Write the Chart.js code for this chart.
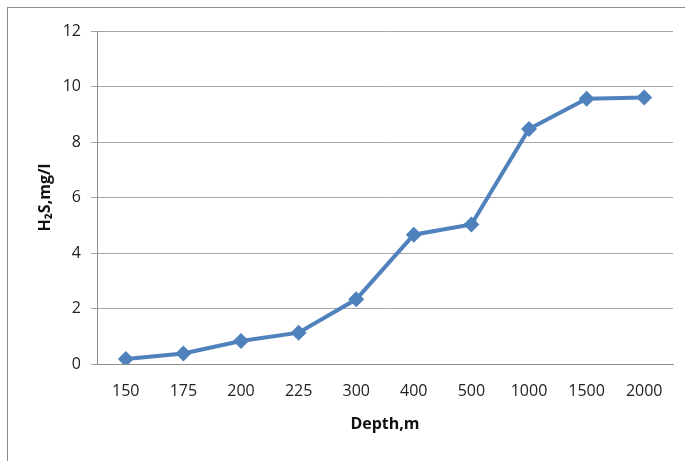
<!DOCTYPE html>
<html>
<head>
<meta charset="utf-8">
<script src="https://cdn.jsdelivr.net/npm/chart.js@4.4.1/dist/chart.umd.min.js"></script>
<style>
  html, body { margin: 0; padding: 0; background: #fff; }
  #wrap { position: relative; width: 685px; height: 461px; overflow: hidden; }
  #frame { position: absolute; left: 7px; top: 7px; width: 690px; height: 470px;
           border-left: 1.5px solid #8c8c8c; border-top: 1.5px solid #8c8c8c; box-sizing: border-box; }
  canvas { position: absolute; left: 0; top: 0; }
</style>
</head>
<body>
<div id="wrap">
  <div id="frame"></div>
  <canvas id="c" width="685" height="461"></canvas>
</div>
<script>
const depths = ["150", "175", "200", "225", "300", "400", "500", "1000", "1500", "2000"];
const h2s = [0.18, 0.38, 0.83, 1.13, 2.33, 4.66, 5.03, 8.47, 9.56, 9.6];
const yTicks = [0, 2, 4, 6, 8, 10, 12];
const xTitle = "Depth,m";
const yTitle = "H\u2082S,mg/l";

const tickFont = { family: "'Open Sans', sans-serif", size: 16 };
const titleFont = { family: "'Open Sans', sans-serif", size: 16, weight: 'bold' };

new Chart(document.getElementById('c'), {
  type: 'line',
  data: {
    labels: depths,
    datasets: [{
      data: h2s,
      borderColor: '#4F81BD',
      backgroundColor: '#4F81BD',
      borderWidth: 4,
      pointStyle: 'rectRot',
      pointRadius: 8,
      pointHoverRadius: 8,
      pointBorderWidth: 0,
      tension: 0
    }]
  },
  options: {
    responsive: false,
    animation: false,
    devicePixelRatio: 1,
    plugins: { legend: { display: false }, tooltip: { enabled: false } },
    layout: { padding: { left: 0, right: 12, top: 31, bottom: 0 } },
    scales: {
      x: {
        type: 'category',
        offset: true,
        grid: { display: false, drawTicks: false },
        border: { display: true, color: '#8c8c8c', width: 1 },
        ticks: { color: '#222', font: tickFont, padding: 18, maxRotation: 0, autoSkip: false },
        title: { display: true, text: xTitle, color: '#111', font: titleFont, padding: { top: 0, bottom: 27 } },
        afterFit: s => { s.height = 97; }
      },
      y: {
        min: 0, max: 12,
        afterBuildTicks: s => { s.ticks = yTicks.map(v => ({ value: v })); },
        grid: { color: '#a6a6a6', lineWidth: 1, tickLength: 6, drawTicks: true },
        border: { display: true, color: '#8c8c8c', width: 1 },
        ticks: { color: '#222', font: tickFont, padding: 10 },
        title: { display: true, text: yTitle, color: '#111', font: titleFont, padding: { top: 36, bottom: 0 } },
        afterFit: s => { s.width = 97; }
      }
    }
  }
});
</script>
</body>
</html>
